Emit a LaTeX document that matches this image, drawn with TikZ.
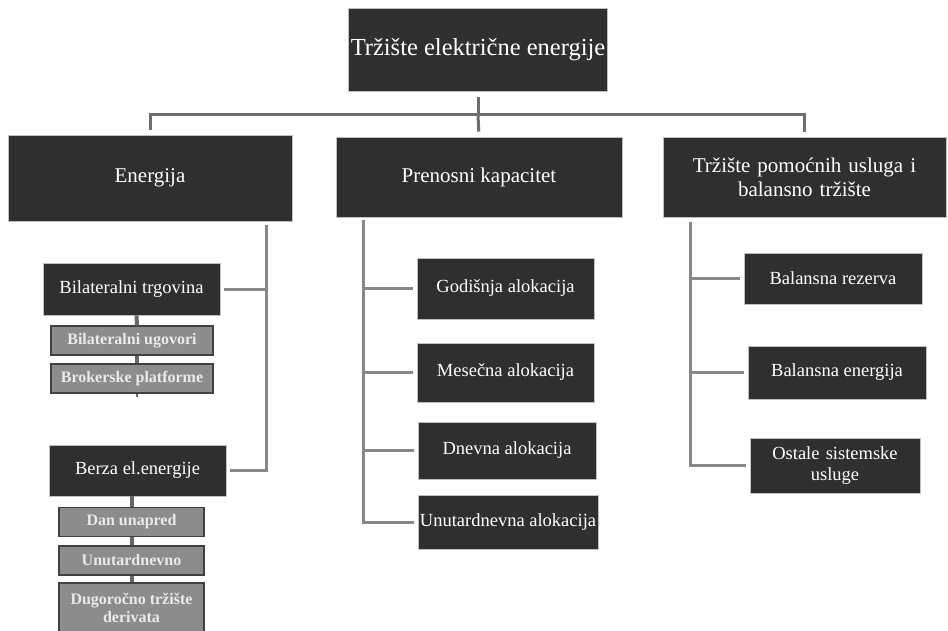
\documentclass[tikz,border=0pt]{standalone}
\usepackage{fontspec}
\setmainfont{Liberation Serif}
\usepackage{tikz}

\definecolor{boxdark}{HTML}{2F2F2F}
\definecolor{boxgrey}{HTML}{8C8C8C}
\definecolor{linkgrey}{HTML}{878787}
\definecolor{topgrey}{HTML}{6E6E6E}

\newcommand{\titlefont}{\fontsize{24.5}{28}\selectfont}
\newcommand{\headfont}{\fontsize{21}{24}\selectfont}
\newcommand{\itemfont}{\fontsize{18.5}{21}\selectfont}

\begin{document}
\begin{tikzpicture}[x=1pt, y=-1pt,
  main/.style={fill=boxdark, draw=gray!50, line width=0.8pt, text=white, inner sep=2pt, align=center},
  sub/.style={fill=boxgrey, draw=black!75, line width=1.2pt, text=white!92!black,
    font=\fontsize{16}{18}\selectfont\bfseries, align=center, inner sep=1pt,
    minimum width=145pt, minimum height=29pt},
  link/.style={draw=linkgrey, line width=3pt},
  stub/.style={draw=black!60, line width=4pt}]
  % Canvas
  \useasboundingbox (0,0) rectangle (948,631);
  \fill[white] (0,0) rectangle (948,631);
  % Top level
  \node[main, minimum width=254pt, minimum height=83pt, font=\titlefont] (top) at (478,49.5) {Tržište električne energije};
  \node[main, minimum width=284pt, minimum height=86pt, font=\headfont] (en) at (150,178) {Energija};
  \node[main, minimum width=286pt, minimum height=80pt, font=\headfont] (pk) at (479,177) {Prenosni kapacitet};
  \node[main, minimum width=283pt, minimum height=80pt, font=\headfont, text width=270pt] (tp) at (804.5,177) {Tržište pomoćnih usluga i\\balansno tržište};
  \coordinate (bus) at (478,115);
  \draw[draw=topgrey, line width=3pt, shorten <=6pt] (top.south) -- (bus);
  \draw[draw=topgrey, line width=3pt, shorten >=5pt] (bus) -| (en.north);
  \draw[draw=topgrey, line width=3pt, shorten >=5pt] (bus) -- (pk.north);
  \draw[draw=topgrey, line width=3pt, shorten >=5pt] (bus) -| (tp.north);
  % Energija
  \node[main, minimum width=177pt, minimum height=52pt, font=\itemfont] (bil) at (131.5,289) {Bilateralni trgovina};
  \node[sub, minimum width=162pt] (bu) at (132,340.5) {Bilateralni ugovori};
  \node[sub, minimum width=162pt] (bp) at (132,378.5) {Brokerske platforme};
  \node[main, minimum width=177pt, minimum height=51pt, font=\itemfont] (berza) at (137.5,470.5) {Berza el.energije};
  \node[sub] (dan) at (131.5,522) {Dan unapred};
  \node[sub] (unu) at (131.5,560.5) {Unutardnevno};
  \node[sub, minimum height=50pt] (dug) at (131.5,608) {Dugoročno tržište\\derivata};
  \coordinate (enbus) at (266,225);
  \coordinate (bptail) at (137,397);
  \draw[link, shorten >=4pt] (enbus) |- (bil.east);
  \draw[link, shorten >=4pt] (enbus) |- (berza.east);
  \draw[stub] ([xshift=5pt]bil.south) -- ([xshift=5pt]bu.north);
  \draw[stub] ([xshift=5pt]bu.south) -- ([xshift=5pt]bp.north);
  \draw[stub, line width=2pt] ([xshift=5pt]bp.south) -- (bptail);
  \draw[stub] (berza.south -| dan) -- (dan.north);
  \draw[stub] (dan.south) -- (unu.north);
  \draw[stub] (unu.south) -- (dug.north);
  % Prenosni kapacitet
  \node[main, minimum width=177pt, minimum height=61pt, font=\itemfont] (god) at (505.5,288.5) {Godišnja alokacija};
  \node[main, minimum width=177pt, minimum height=59pt, font=\itemfont] (mes) at (505.5,372.5) {Mesečna alokacija};
  \node[main, minimum width=178pt, minimum height=57pt, font=\itemfont] (dne) at (507,450.5) {Dnevna alokacija};
  \node[main, minimum width=180pt, minimum height=54pt, font=\itemfont] (uta) at (508,522) {Unutardnevna alokacija};
  \coordinate (pkbus) at (363,220);
  \draw[link, shorten >=4pt] (pkbus) |- (god.west);
  \draw[link, shorten >=4pt] (pkbus) |- (mes.west);
  \draw[link, shorten >=4pt] (pkbus) |- (dne.west);
  \draw[link, shorten >=4pt] (pkbus) |- (uta.west);
  % Pomocne usluge
  \node[main, minimum width=178pt, minimum height=51pt, font=\itemfont] (br) at (833,278.5) {Balansna rezerva};
  \node[main, minimum width=178pt, minimum height=53pt, font=\itemfont] (be) at (837,372.5) {Balansna energija};
  \node[main, minimum width=170pt, minimum height=55pt, font=\itemfont, text width=150pt] (os) at (835,465.5) {Ostale sistemske\\usluge};
  \coordinate (tpbus) at (690,222);
  \draw[link, shorten >=4pt] (tpbus) |- (br.west);
  \draw[link, shorten >=4pt] (tpbus) |- (be.west);
  \draw[link, shorten >=4pt] (tpbus) |- (os.west);
\end{tikzpicture}
\end{document}
